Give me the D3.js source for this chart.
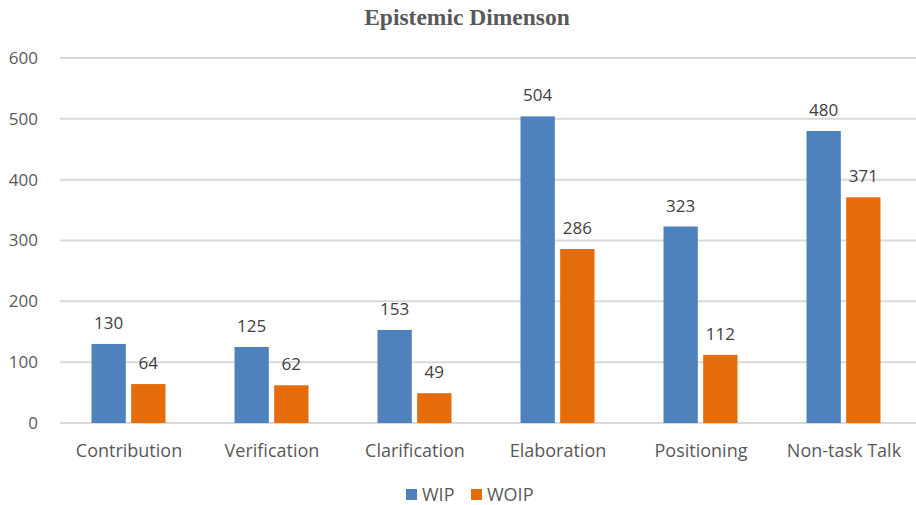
<!DOCTYPE html>
<html><head><meta charset="utf-8">
<script src="https://cdn.jsdelivr.net/npm/d3@7"></script>
<style>body{margin:0;background:#fff}svg{display:block}</style>
</head><body>
<svg id="c" width="916" height="505"></svg>
<script>
const categories = ["Contribution","Verification","Clarification","Elaboration","Positioning","Non-task Talk"];
const seriesNames = ["WIP","WOIP"];
const wip = [130,125,153,504,323,480];
const woip = [64,62,49,286,112,371];
const yTicks = [0,100,200,300,400,500,600];
const colors = ["#4F81BD","#E46C0A"];
const title = "Epistemic Dimenson";

const svg = d3.select("#c");
const W = 916, H = 505;
const m = {left:57, right:1, top:58, bottom:82};
const x0 = d3.scaleBand().domain(categories).range([m.left, W - m.right]).paddingInner(0).paddingOuter(0);
const x1 = d3.scaleBand().domain(seriesNames).range([0, 74]).paddingInner(0.135);
const y = d3.scaleLinear().domain([0,600]).range([H - m.bottom, m.top]);
const font = "'Open Sans', 'Noto Sans', sans-serif";
const txt = "#595959";

svg.append("text").attr("x", 467).attr("y", 25).attr("text-anchor","middle")
  .attr("font-family","'Liberation Serif', 'Times New Roman', serif").attr("font-weight","bold")
  .attr("font-size", 23.5).attr("fill", txt).text(title);

// grid
svg.append("g").selectAll("line").data(yTicks).join("line")
  .attr("x1", 60).attr("x2", W).attr("y1", d=>y(d)).attr("y2", d=>y(d))
  .attr("stroke","#d9d9d9").attr("stroke-width",2);

// y labels
svg.append("g").selectAll("text").data(yTicks).join("text")
  .attr("x", 38).attr("y", d=>y(d)).attr("dy","0.35em").attr("text-anchor","end")
  .attr("font-family", font).attr("font-size", 17).attr("fill", txt).text(d=>d);

const data = categories.map((c,i)=>({c, vals:[{s:"WIP",v:wip[i]},{s:"WOIP",v:woip[i]}]}));
const groups = svg.append("g").selectAll("g").data(data).join("g")
  .attr("transform", d=>`translate(${x0(d.c) + x0.bandwidth()/2 - 37},0)`);
groups.selectAll("rect").data(d=>d.vals).join("rect")
  .attr("x", d=>x1(d.s)).attr("width", x1.bandwidth())
  .attr("y", d=>y(d.v)).attr("height", d=>y(0)-y(d.v))
  .attr("fill", (d,i)=>colors[i]);
groups.selectAll("text").data(d=>d.vals).join("text")
  .attr("x", d=>x1(d.s)+x1.bandwidth()/2).attr("y", d=>y(d.v)-15)
  .attr("text-anchor","middle").attr("font-family", font).attr("font-size", 17)
  .attr("fill", "#404040").text(d=>d.v);

// x labels
svg.append("g").selectAll("text").data(categories).join("text")
  .attr("x", d=>x0(d)+x0.bandwidth()/2 + 0.5).attr("y", 457).attr("text-anchor","middle")
  .attr("font-family", font).attr("font-size", 18).attr("fill", txt).text(d=>d);

// legend
const leg = svg.append("g");
const legX = [406, 471];
seriesNames.forEach((s,i)=>{
  leg.append("rect").attr("x", legX[i]).attr("y", 489).attr("width", 11).attr("height", 11).attr("fill", colors[i]);
  leg.append("text").attr("x", legX[i]+16).attr("y", 495).attr("dy","0.35em")
    .attr("font-family", font).attr("font-size", 18).attr("fill", txt).text(s);
});
</script>
</body></html>
